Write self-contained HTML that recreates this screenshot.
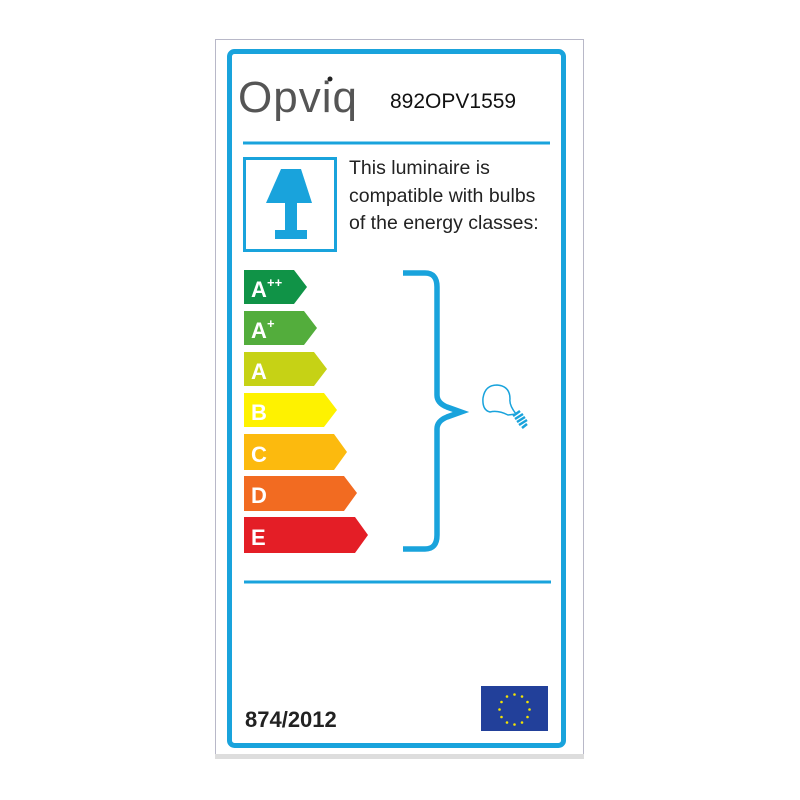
<!DOCTYPE html>
<html><head><meta charset="utf-8"><style>
html,body{margin:0;padding:0;background:#fff;width:800px;height:800px;overflow:hidden}
</style></head><body>
<svg width="800" height="800" viewBox="0 0 800 800" xmlns="http://www.w3.org/2000/svg">
<rect x="0" y="0" width="800" height="800" fill="#fff"/>
<rect x="215.5" y="39.5" width="368" height="718" fill="#fff" stroke="#b8b8c8" stroke-width="1"/>
<rect x="215" y="754" width="369" height="5" fill="#ddd"/>
<rect x="229.5" y="51.5" width="334" height="694" rx="5" fill="#fff" stroke="#19a3dc" stroke-width="5"/>
<text x="238" y="112" font-family="Liberation Sans, sans-serif" font-size="44" fill="#555" letter-spacing="1">Opviq</text>
<circle cx="330" cy="79" r="2.5" fill="#222"/>
<text x="390" y="108" font-family="Liberation Sans, sans-serif" font-size="21" fill="#111">892OPV1559</text>
<line x1="243" y1="143" x2="550" y2="143" stroke="#19a3dc" stroke-width="3"/>
<rect x="244.5" y="158.5" width="91" height="92" fill="none" stroke="#19a3dc" stroke-width="3"/>
<polygon points="281,169 301,169 312,203 266,203" fill="#19a3dc"/>
<rect x="285" y="203" width="12" height="28" fill="#19a3dc"/>
<rect x="275" y="230" width="32" height="9" fill="#19a3dc"/>
<g font-family="Liberation Sans, sans-serif" font-size="19.5" fill="#222">
<text x="349" y="174">This luminaire is</text>
<text x="349" y="202">compatible with bulbs</text>
<text x="349" y="229">of the energy classes:</text>
</g>
<g font-family="Liberation Sans, sans-serif" font-weight="bold" font-size="22" fill="#fff">
<polygon points="244,270 294,270 307,287 294,304 244,304" fill="#109347"/>
<text x="251" y="297">A</text><text x="267" y="287" font-size="13">++</text>
<polygon points="244,311 304,311 317,328 304,345 244,345" fill="#53ad3c"/>
<text x="251" y="338">A</text><text x="267" y="328" font-size="13">+</text>
<polygon points="244,352 314,352 327,369 314,386 244,386" fill="#c6d215"/>
<text x="251" y="379">A</text>
<polygon points="244,393 324,393 337,410 324,427 244,427" fill="#fef200"/>
<text x="251" y="420">B</text>
<polygon points="244,434 334,434 347,452 334,470 244,470" fill="#fcba0e"/>
<text x="251" y="462">C</text>
<polygon points="244,476 344,476 357,493 344,511 244,511" fill="#f26b21"/>
<text x="251" y="503">D</text>
<polygon points="244,517 355,517 368,535 355,553 244,553" fill="#e41e26"/>
<text x="251" y="545">E</text>
</g>
<path d="M403,273 L425,273 Q437,273 437,287 L437,395 Q437,403 447,407 L461,412 L447,417 Q437,421 437,429 L437,535 Q437,549 425,549 L403,549" fill="none" stroke="#19a3dc" stroke-width="5.5"/>
<g stroke="#19a3dc" fill="none" stroke-width="1.5">
<path d="M508,415 Q498,410 490,412 Q482,410 483,398 Q485,385 497,385 Q510,386 510,399 Q509,405 516,414 Z"/>
</g>
<g stroke="#19a3dc" stroke-width="2.5">
<line x1="513" y1="416" x2="520" y2="411"/>
<line x1="515" y1="419" x2="523" y2="414"/>
<line x1="517" y1="422" x2="525" y2="417"/>
<line x1="519" y1="425" x2="527" y2="420"/>
<line x1="522" y1="428" x2="527" y2="424"/>
</g>
<line x1="244" y1="582" x2="551" y2="582" stroke="#19a3dc" stroke-width="3"/>
<text x="245" y="727" font-family="Liberation Sans, sans-serif" font-weight="bold" font-size="22" fill="#222">874/2012</text>
<rect x="481" y="686" width="67" height="45" fill="#22409a"/>
<g fill="#f4e400">
<circle cx="514.5" cy="694.5" r="1.3"/><circle cx="522" cy="696.5" r="1.3"/><circle cx="527.5" cy="702" r="1.3"/><circle cx="529.5" cy="709.5" r="1.3"/><circle cx="527.5" cy="717" r="1.3"/><circle cx="522" cy="722.5" r="1.3"/><circle cx="514.5" cy="724.5" r="1.3"/><circle cx="507" cy="722.5" r="1.3"/><circle cx="501.5" cy="717" r="1.3"/><circle cx="499.5" cy="709.5" r="1.3"/><circle cx="501.5" cy="702" r="1.3"/><circle cx="507" cy="696.5" r="1.3"/>
</g>
</svg>
</body></html>
